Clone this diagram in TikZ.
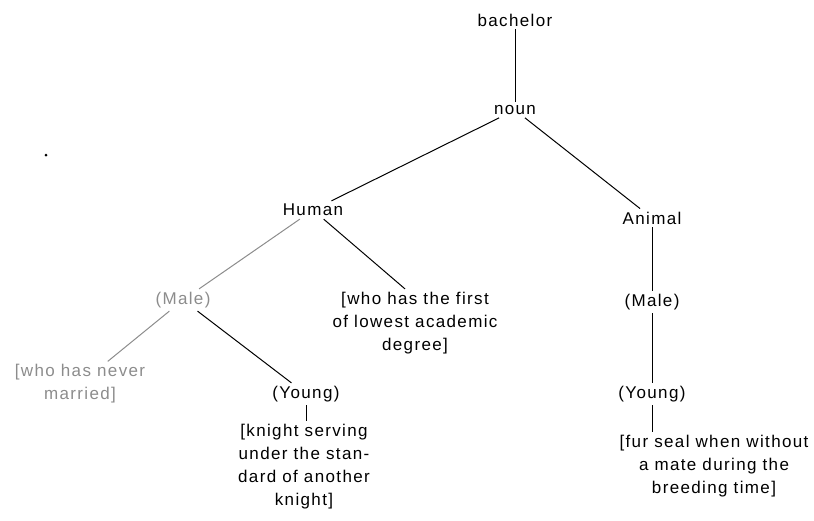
\documentclass[tikz,border=0pt]{standalone}
\usepackage{fontspec}
\usepackage{tikz}
\setmainfont[LetterSpace=8]{Liberation Sans}
\usetikzlibrary{positioning}
\tikzset{lbl/.style = {inner sep = 3, align = center,
                       font = \fontsize{17}{23}\selectfont}}
\tikzset{circ/.style = {fill, circle, inner sep = 0, minimum size = 3}}
\tikzset{edge/.style = {line width = 1}}
\definecolor{mgrey}{rgb}{0.55, 0.55, 0.55}

\begin{document}
\begin{tikzpicture}[x = 1pt, y = -1pt]
      \useasboundingbox (0, 0) rectangle (814, 520);
      \node [lbl] (bach) at (515, 20) {bachelor};
      \node [lbl] (noun) at (515, 110) {noun};
      \node [lbl] (hum) at (313, 210) {Human};
      \node [lbl] (ani) at (652, 218) {Animal};
      \node [lbl, mgrey] (maleL) at (183, 300) {(Male)};
      \node [lbl] (first) at (415, 323) {[who has the first\\ of lowest academic\\ degree]};
      \node [lbl, mgrey] (never) at (80, 384) {[who has never\\ married]};
      \node [lbl] (yngL) at (306, 394) {(Young)};
      \node [lbl] (knight) at (304, 467) {[knight serving\\ under the stan-\\ dard of another\\ knight]};
      \node [lbl] (maleR) at (652, 302) {(Male)};
      \node [lbl] (yngR) at (652, 394) {(Young)};
      \node [lbl] (fur) at (714, 466) {[fur seal when without\\ a mate during the\\ breeding time]};
      \node [circ] (dot) at (46, 155) {};
      \draw [edge] (bach) -- (noun);
      \draw [edge] (noun) -- (hum);
      \draw [edge] (noun) -- (ani);
      \draw [edge, mgrey] (hum) -- (maleL);
      \draw [edge] (hum) -- ([xshift = -10]first.north);
      \draw [edge, mgrey] (maleL) -- (never);
      \draw [edge] (maleL) -- (yngL);
      \draw [edge] (yngL) -- (yngL |- knight.north);
      \draw [edge] (ani) -- (maleR);
      \draw [edge] (maleR) -- (yngR);
      \draw [edge] (yngR) -- (yngR |- fur.north);
    \end{tikzpicture}
\end{document}
